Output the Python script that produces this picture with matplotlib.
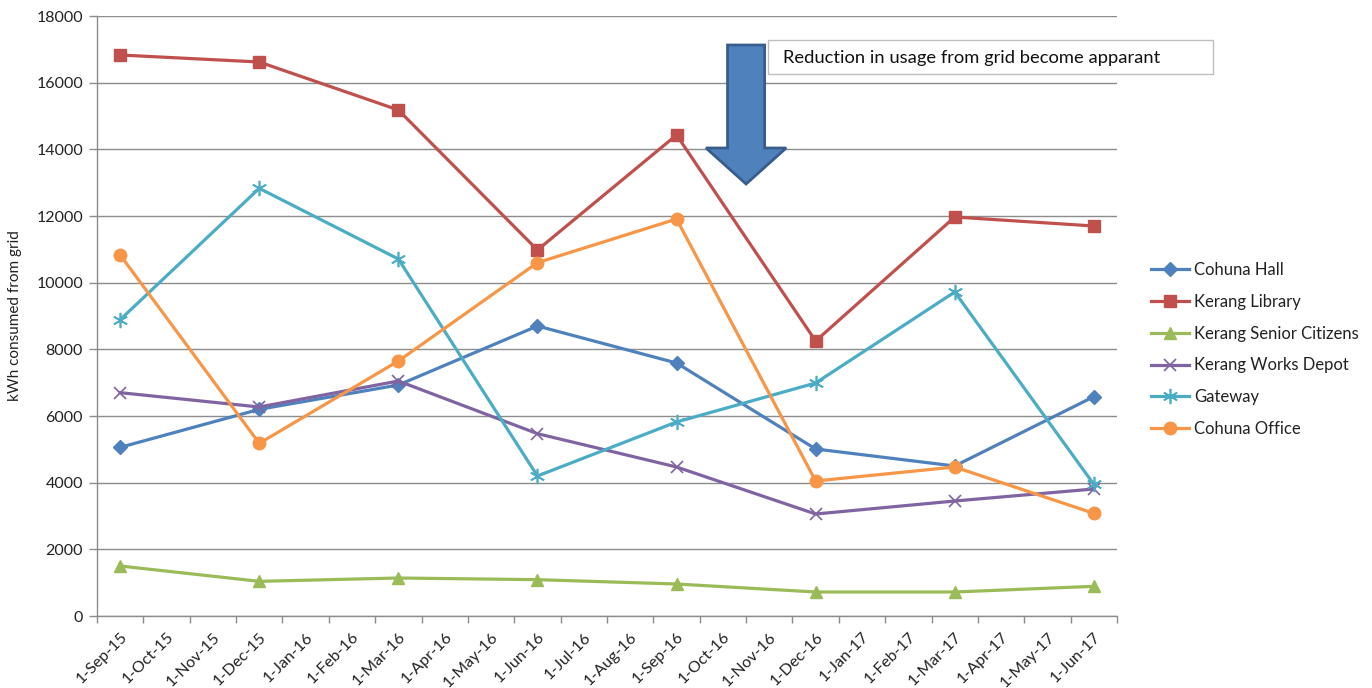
import matplotlib
matplotlib.use("Agg")
import matplotlib.pyplot as plt
from matplotlib.patches import FancyArrow, Rectangle
import numpy as np

plt.rcParams['font.family'] = ['Lato', 'DejaVu Sans']

months = ["1-Sep-15", "1-Oct-15", "1-Nov-15", "1-Dec-15", "1-Jan-16", "1-Feb-16",
          "1-Mar-16", "1-Apr-16", "1-May-16", "1-Jun-16", "1-Jul-16", "1-Aug-16",
          "1-Sep-16", "1-Oct-16", "1-Nov-16", "1-Dec-16", "1-Jan-17", "1-Feb-17",
          "1-Mar-17", "1-Apr-17", "1-May-17", "1-Jun-17"]
# data points every quarter (month indices)
point_months = ["1-Sep-15", "1-Dec-15", "1-Mar-16", "1-Jun-16",
                "1-Sep-16", "1-Dec-16", "1-Mar-17", "1-Jun-17"]

cohuna_hall = [5060, 6200, 6930, 8700, 7590, 5010, 4500, 6580]
kerang_library = [16830, 16620, 15180, 10980, 14430, 8250, 11970, 11700]
kerang_senior = [1500, 1040, 1140, 1090, 960, 720, 720, 890]
kerang_depot = [6700, 6270, 7050, 5470, 4470, 3060, 3450, 3810]
gateway = [8890, 12830, 10710, 4200, 5820, 6990, 9720, 3950]
cohuna_office = [10830, 5180, 7650, 10600, 11910, 4050, 4470, 3080]

series_names = ["Cohuna Hall", "Kerang Library", "Kerang Senior Citizens",
                "Kerang Works Depot", "Gateway", "Cohuna Office"]
series_values = [cohuna_hall, kerang_library, kerang_senior, kerang_depot,
                 gateway, cohuna_office]
colors = ["#4F81BD", "#C0504D", "#9BBB59", "#8064A2", "#4BACC6", "#F79646"]
markers = ["D", "s", "^", "x", (6, 2, 0), "o"]
msizes = [7, 8, 8, 9, 11, 9]

fig = plt.figure(figsize=(13.72, 6.88), dpi=100)
ax = fig.add_axes([97/1372, 72/688, 1020/1372, 600/688])

xpos = [months.index(m) for m in point_months]
for name, vals, c, mk, ms in zip(series_names, series_values, colors, markers, msizes):
    mew = 1.2 if mk in ("x", (6, 2, 0)) else 1
    ax.plot(xpos, vals, color=c, lw=2.3, marker=mk, markersize=ms,
            markeredgecolor=c, markerfacecolor=c, markeredgewidth=mew,
            label=name, zorder=3)

ax.set_xlim(-0.5, len(months) - 0.5)
ax.set_ylim(0, 18000)
ax.set_yticks(np.arange(0, 18001, 2000))
ax.set_yticklabels([str(v) for v in range(0, 18001, 2000)], fontsize=11.5, color="#222222")
ax.grid(axis='y', color="#8C8C8C", lw=1, zorder=0)
ax.set_axisbelow(True)

ax.set_xticks(np.arange(len(months)))
ax.set_xticklabels(months, rotation=45, ha='right', rotation_mode='anchor',
                   fontsize=11.5, color="#222222")
ax.set_xticks(np.arange(len(months) + 1) - 0.5, minor=True)
ax.tick_params(axis='x', which='major', length=0, pad=10)
ax.tick_params(axis='x', which='minor', length=5, color="#8C8C8C", width=1)
ax.tick_params(axis='y', length=6, color="#8C8C8C", width=1, pad=4)
for s in ("top", "right"):
    ax.spines[s].set_visible(False)
for s in ("left", "bottom"):
    ax.spines[s].set_color("#8C8C8C")
    ax.spines[s].set_linewidth(1)

ax.set_ylabel("kWh consumed from grid", fontsize=11, color="#222222", labelpad=10)

# Block arrow
arr = FancyArrow(13.5, 17130, 0, 12960 - 17130, width=0.8, head_width=1.73,
                 head_length=14040 - 12960, length_includes_head=True,
                 facecolor="#4F81BD", edgecolor="#385D8A", lw=2, zorder=5,
                 clip_on=False)
ax.add_patch(arr)

# Annotation box
fig.add_artist(Rectangle((768/1372, 1 - 74/688), (1213 - 768)/1372, 34/688,
                         transform=fig.transFigure, facecolor="white",
                         edgecolor="#BFBFBF", lw=1, zorder=6))
fig.text(783/1372, 1 - 57.5/688, "Reduction in usage from grid become apparant",
         fontsize=13.2, color="#111111", va='center', ha='left', zorder=7)

leg = fig.legend(loc='center left', bbox_to_anchor=(1136/1372, 1 - 349.5/688),
                 frameon=False, fontsize=12, handlelength=2.3,
                 labelspacing=0.95, handletextpad=0.3)
for t in leg.get_texts():
    t.set_color("#222222")

fig.savefig("out.png", dpi=100)
